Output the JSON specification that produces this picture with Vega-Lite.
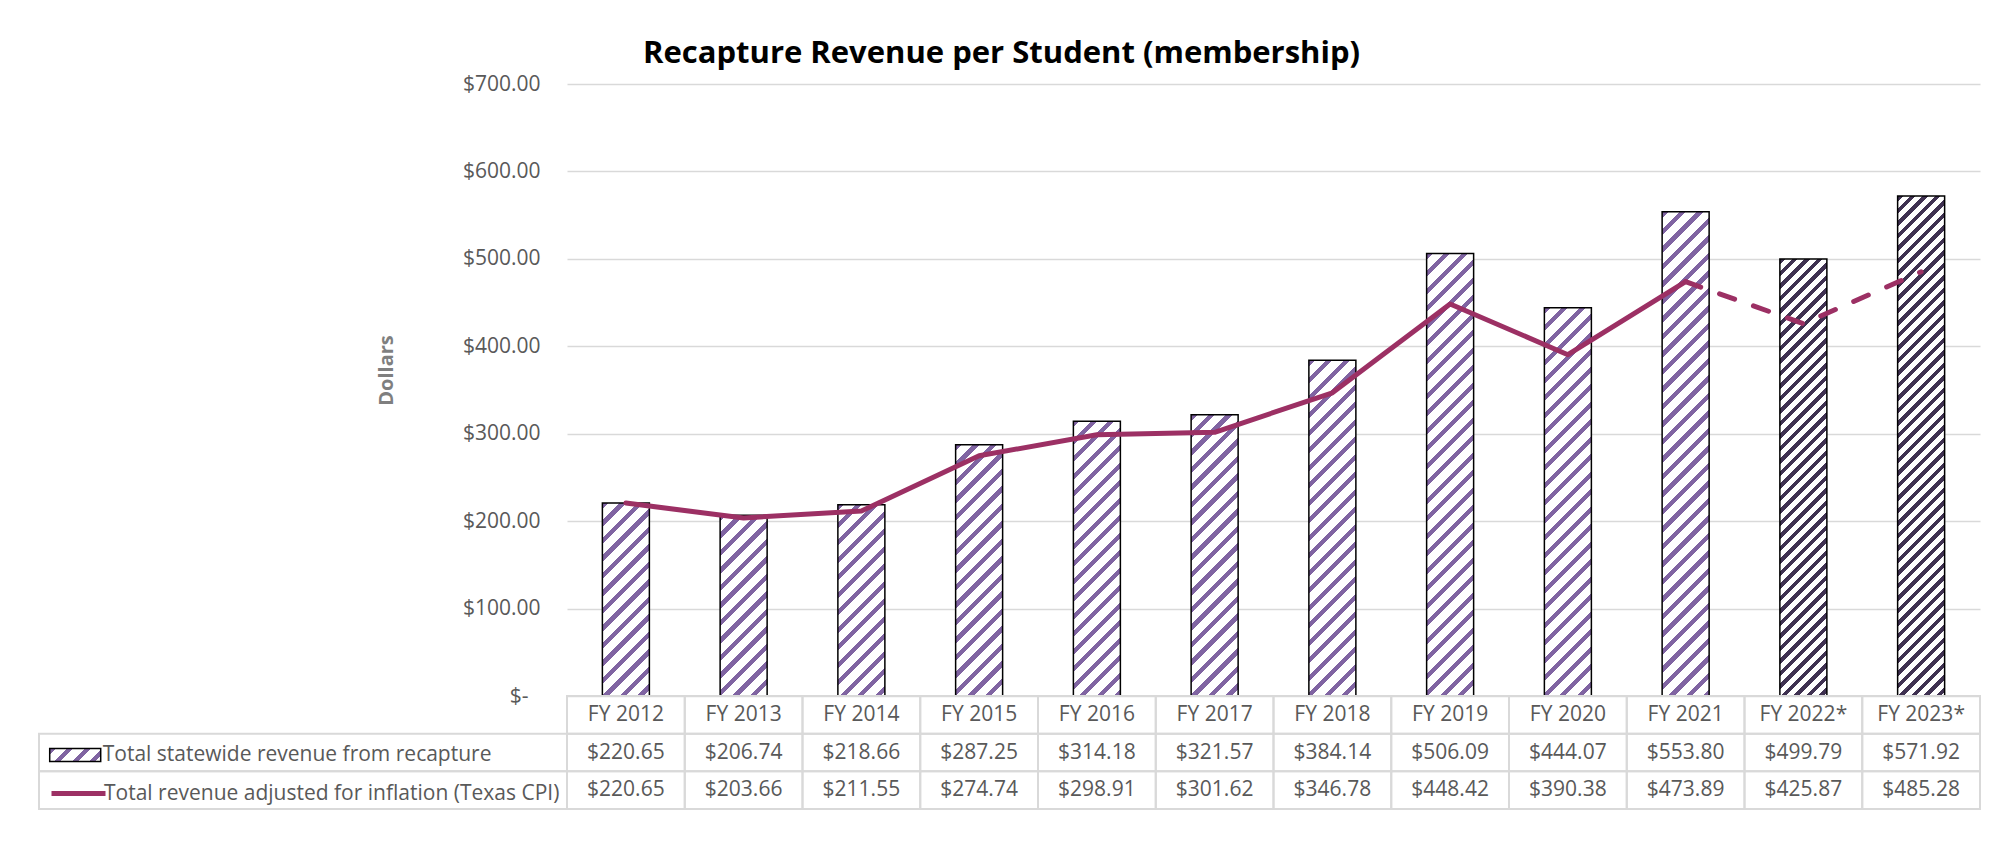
{
  "$schema": "https://vega.github.io/schema/vega-lite/v6.json",
  "background": "white",
  "padding": {"left": 38, "top": 38, "right": 0, "bottom": 0},
  "title": {"text": "Recapture Revenue per Student (membership)", "font": "Open Sans", "fontSize": 31, "fontWeight": "bold", "color": "#000000", "anchor": "middle", "offset": -21, "dx": -8, "baseline": "alphabetic"},
  "config": {"view": {"stroke": null}, "font": "Open Sans"},
  "params": [
    {"name": "purpleStops", "value": [
      {"offset":0,"color":"#8064a2"},{"offset":0.011,"color":"#8064a2"},{"offset":0.011,"color":"#fff"},{"offset":0.03125,"color":"#fff"},
      {"offset":0.03125,"color":"#8064a2"},{"offset":0.04225,"color":"#8064a2"},{"offset":0.04225,"color":"#fff"},{"offset":0.0625,"color":"#fff"},
      {"offset":0.0625,"color":"#8064a2"},{"offset":0.0735,"color":"#8064a2"},{"offset":0.0735,"color":"#fff"},{"offset":0.09375,"color":"#fff"},
      {"offset":0.09375,"color":"#8064a2"},{"offset":0.10475,"color":"#8064a2"},{"offset":0.10475,"color":"#fff"},{"offset":0.125,"color":"#fff"},
      {"offset":0.125,"color":"#8064a2"},{"offset":0.136,"color":"#8064a2"},{"offset":0.136,"color":"#fff"},{"offset":0.15625,"color":"#fff"},
      {"offset":0.15625,"color":"#8064a2"},{"offset":0.16725,"color":"#8064a2"},{"offset":0.16725,"color":"#fff"},{"offset":0.1875,"color":"#fff"},
      {"offset":0.1875,"color":"#8064a2"},{"offset":0.1985,"color":"#8064a2"},{"offset":0.1985,"color":"#fff"},{"offset":0.21875,"color":"#fff"},
      {"offset":0.21875,"color":"#8064a2"},{"offset":0.22975,"color":"#8064a2"},{"offset":0.22975,"color":"#fff"},{"offset":0.25,"color":"#fff"},
      {"offset":0.25,"color":"#8064a2"},{"offset":0.261,"color":"#8064a2"},{"offset":0.261,"color":"#fff"},{"offset":0.28125,"color":"#fff"},
      {"offset":0.28125,"color":"#8064a2"},{"offset":0.29225,"color":"#8064a2"},{"offset":0.29225,"color":"#fff"},{"offset":0.3125,"color":"#fff"},
      {"offset":0.3125,"color":"#8064a2"},{"offset":0.3235,"color":"#8064a2"},{"offset":0.3235,"color":"#fff"},{"offset":0.34375,"color":"#fff"},
      {"offset":0.34375,"color":"#8064a2"},{"offset":0.35475,"color":"#8064a2"},{"offset":0.35475,"color":"#fff"},{"offset":0.375,"color":"#fff"},
      {"offset":0.375,"color":"#8064a2"},{"offset":0.386,"color":"#8064a2"},{"offset":0.386,"color":"#fff"},{"offset":0.40625,"color":"#fff"},
      {"offset":0.40625,"color":"#8064a2"},{"offset":0.41725,"color":"#8064a2"},{"offset":0.41725,"color":"#fff"},{"offset":0.4375,"color":"#fff"},
      {"offset":0.4375,"color":"#8064a2"},{"offset":0.4485,"color":"#8064a2"},{"offset":0.4485,"color":"#fff"},{"offset":0.46875,"color":"#fff"},
      {"offset":0.46875,"color":"#8064a2"},{"offset":0.47975,"color":"#8064a2"},{"offset":0.47975,"color":"#fff"},{"offset":0.5,"color":"#fff"},
      {"offset":0.5,"color":"#8064a2"},{"offset":0.511,"color":"#8064a2"},{"offset":0.511,"color":"#fff"},{"offset":0.53125,"color":"#fff"},
      {"offset":0.53125,"color":"#8064a2"},{"offset":0.54225,"color":"#8064a2"},{"offset":0.54225,"color":"#fff"},{"offset":0.5625,"color":"#fff"},
      {"offset":0.5625,"color":"#8064a2"},{"offset":0.5735,"color":"#8064a2"},{"offset":0.5735,"color":"#fff"},{"offset":0.59375,"color":"#fff"},
      {"offset":0.59375,"color":"#8064a2"},{"offset":0.60475,"color":"#8064a2"},{"offset":0.60475,"color":"#fff"},{"offset":0.625,"color":"#fff"},
      {"offset":0.625,"color":"#8064a2"},{"offset":0.636,"color":"#8064a2"},{"offset":0.636,"color":"#fff"},{"offset":0.65625,"color":"#fff"},
      {"offset":0.65625,"color":"#8064a2"},{"offset":0.66725,"color":"#8064a2"},{"offset":0.66725,"color":"#fff"},{"offset":0.6875,"color":"#fff"},
      {"offset":0.6875,"color":"#8064a2"},{"offset":0.6985,"color":"#8064a2"},{"offset":0.6985,"color":"#fff"},{"offset":0.71875,"color":"#fff"},
      {"offset":0.71875,"color":"#8064a2"},{"offset":0.72975,"color":"#8064a2"},{"offset":0.72975,"color":"#fff"},{"offset":0.75,"color":"#fff"},
      {"offset":0.75,"color":"#8064a2"},{"offset":0.761,"color":"#8064a2"},{"offset":0.761,"color":"#fff"},{"offset":0.78125,"color":"#fff"},
      {"offset":0.78125,"color":"#8064a2"},{"offset":0.79225,"color":"#8064a2"},{"offset":0.79225,"color":"#fff"},{"offset":0.8125,"color":"#fff"},
      {"offset":0.8125,"color":"#8064a2"},{"offset":0.8235,"color":"#8064a2"},{"offset":0.8235,"color":"#fff"},{"offset":0.84375,"color":"#fff"},
      {"offset":0.84375,"color":"#8064a2"},{"offset":0.85475,"color":"#8064a2"},{"offset":0.85475,"color":"#fff"},{"offset":0.875,"color":"#fff"},
      {"offset":0.875,"color":"#8064a2"},{"offset":0.886,"color":"#8064a2"},{"offset":0.886,"color":"#fff"},{"offset":0.90625,"color":"#fff"},
      {"offset":0.90625,"color":"#8064a2"},{"offset":0.91725,"color":"#8064a2"},{"offset":0.91725,"color":"#fff"},{"offset":0.9375,"color":"#fff"},
      {"offset":0.9375,"color":"#8064a2"},{"offset":0.9485,"color":"#8064a2"},{"offset":0.9485,"color":"#fff"},{"offset":0.96875,"color":"#fff"},
      {"offset":0.96875,"color":"#8064a2"},{"offset":0.97975,"color":"#8064a2"},{"offset":0.97975,"color":"#fff"},{"offset":1,"color":"#fff"}
    ]},
    {"name": "darkStops", "value": [
      {"offset":0,"color":"#3f3151"},{"offset":0.01,"color":"#3f3151"},{"offset":0.01,"color":"#fff"},{"offset":0.02273,"color":"#fff"},
      {"offset":0.02273,"color":"#3f3151"},{"offset":0.03273,"color":"#3f3151"},{"offset":0.03273,"color":"#fff"},{"offset":0.04545,"color":"#fff"},
      {"offset":0.04545,"color":"#3f3151"},{"offset":0.05545,"color":"#3f3151"},{"offset":0.05545,"color":"#fff"},{"offset":0.06818,"color":"#fff"},
      {"offset":0.06818,"color":"#3f3151"},{"offset":0.07818,"color":"#3f3151"},{"offset":0.07818,"color":"#fff"},{"offset":0.09091,"color":"#fff"},
      {"offset":0.09091,"color":"#3f3151"},{"offset":0.10091,"color":"#3f3151"},{"offset":0.10091,"color":"#fff"},{"offset":0.11364,"color":"#fff"},
      {"offset":0.11364,"color":"#3f3151"},{"offset":0.12364,"color":"#3f3151"},{"offset":0.12364,"color":"#fff"},{"offset":0.13636,"color":"#fff"},
      {"offset":0.13636,"color":"#3f3151"},{"offset":0.14636,"color":"#3f3151"},{"offset":0.14636,"color":"#fff"},{"offset":0.15909,"color":"#fff"},
      {"offset":0.15909,"color":"#3f3151"},{"offset":0.16909,"color":"#3f3151"},{"offset":0.16909,"color":"#fff"},{"offset":0.18182,"color":"#fff"},
      {"offset":0.18182,"color":"#3f3151"},{"offset":0.19182,"color":"#3f3151"},{"offset":0.19182,"color":"#fff"},{"offset":0.20455,"color":"#fff"},
      {"offset":0.20455,"color":"#3f3151"},{"offset":0.21455,"color":"#3f3151"},{"offset":0.21455,"color":"#fff"},{"offset":0.22727,"color":"#fff"},
      {"offset":0.22727,"color":"#3f3151"},{"offset":0.23727,"color":"#3f3151"},{"offset":0.23727,"color":"#fff"},{"offset":0.25,"color":"#fff"},
      {"offset":0.25,"color":"#3f3151"},{"offset":0.26,"color":"#3f3151"},{"offset":0.26,"color":"#fff"},{"offset":0.27273,"color":"#fff"},
      {"offset":0.27273,"color":"#3f3151"},{"offset":0.28273,"color":"#3f3151"},{"offset":0.28273,"color":"#fff"},{"offset":0.29545,"color":"#fff"},
      {"offset":0.29545,"color":"#3f3151"},{"offset":0.30545,"color":"#3f3151"},{"offset":0.30545,"color":"#fff"},{"offset":0.31818,"color":"#fff"},
      {"offset":0.31818,"color":"#3f3151"},{"offset":0.32818,"color":"#3f3151"},{"offset":0.32818,"color":"#fff"},{"offset":0.34091,"color":"#fff"},
      {"offset":0.34091,"color":"#3f3151"},{"offset":0.35091,"color":"#3f3151"},{"offset":0.35091,"color":"#fff"},{"offset":0.36364,"color":"#fff"},
      {"offset":0.36364,"color":"#3f3151"},{"offset":0.37364,"color":"#3f3151"},{"offset":0.37364,"color":"#fff"},{"offset":0.38636,"color":"#fff"},
      {"offset":0.38636,"color":"#3f3151"},{"offset":0.39636,"color":"#3f3151"},{"offset":0.39636,"color":"#fff"},{"offset":0.40909,"color":"#fff"},
      {"offset":0.40909,"color":"#3f3151"},{"offset":0.41909,"color":"#3f3151"},{"offset":0.41909,"color":"#fff"},{"offset":0.43182,"color":"#fff"},
      {"offset":0.43182,"color":"#3f3151"},{"offset":0.44182,"color":"#3f3151"},{"offset":0.44182,"color":"#fff"},{"offset":0.45455,"color":"#fff"},
      {"offset":0.45455,"color":"#3f3151"},{"offset":0.46455,"color":"#3f3151"},{"offset":0.46455,"color":"#fff"},{"offset":0.47727,"color":"#fff"},
      {"offset":0.47727,"color":"#3f3151"},{"offset":0.48727,"color":"#3f3151"},{"offset":0.48727,"color":"#fff"},{"offset":0.5,"color":"#fff"},
      {"offset":0.5,"color":"#3f3151"},{"offset":0.51,"color":"#3f3151"},{"offset":0.51,"color":"#fff"},{"offset":0.52273,"color":"#fff"},
      {"offset":0.52273,"color":"#3f3151"},{"offset":0.53273,"color":"#3f3151"},{"offset":0.53273,"color":"#fff"},{"offset":0.54545,"color":"#fff"},
      {"offset":0.54545,"color":"#3f3151"},{"offset":0.55545,"color":"#3f3151"},{"offset":0.55545,"color":"#fff"},{"offset":0.56818,"color":"#fff"},
      {"offset":0.56818,"color":"#3f3151"},{"offset":0.57818,"color":"#3f3151"},{"offset":0.57818,"color":"#fff"},{"offset":0.59091,"color":"#fff"},
      {"offset":0.59091,"color":"#3f3151"},{"offset":0.60091,"color":"#3f3151"},{"offset":0.60091,"color":"#fff"},{"offset":0.61364,"color":"#fff"},
      {"offset":0.61364,"color":"#3f3151"},{"offset":0.62364,"color":"#3f3151"},{"offset":0.62364,"color":"#fff"},{"offset":0.63636,"color":"#fff"},
      {"offset":0.63636,"color":"#3f3151"},{"offset":0.64636,"color":"#3f3151"},{"offset":0.64636,"color":"#fff"},{"offset":0.65909,"color":"#fff"},
      {"offset":0.65909,"color":"#3f3151"},{"offset":0.66909,"color":"#3f3151"},{"offset":0.66909,"color":"#fff"},{"offset":0.68182,"color":"#fff"},
      {"offset":0.68182,"color":"#3f3151"},{"offset":0.69182,"color":"#3f3151"},{"offset":0.69182,"color":"#fff"},{"offset":0.70455,"color":"#fff"},
      {"offset":0.70455,"color":"#3f3151"},{"offset":0.71455,"color":"#3f3151"},{"offset":0.71455,"color":"#fff"},{"offset":0.72727,"color":"#fff"},
      {"offset":0.72727,"color":"#3f3151"},{"offset":0.73727,"color":"#3f3151"},{"offset":0.73727,"color":"#fff"},{"offset":0.75,"color":"#fff"},
      {"offset":0.75,"color":"#3f3151"},{"offset":0.76,"color":"#3f3151"},{"offset":0.76,"color":"#fff"},{"offset":0.77273,"color":"#fff"},
      {"offset":0.77273,"color":"#3f3151"},{"offset":0.78273,"color":"#3f3151"},{"offset":0.78273,"color":"#fff"},{"offset":0.79545,"color":"#fff"},
      {"offset":0.79545,"color":"#3f3151"},{"offset":0.80545,"color":"#3f3151"},{"offset":0.80545,"color":"#fff"},{"offset":0.81818,"color":"#fff"},
      {"offset":0.81818,"color":"#3f3151"},{"offset":0.82818,"color":"#3f3151"},{"offset":0.82818,"color":"#fff"},{"offset":0.84091,"color":"#fff"},
      {"offset":0.84091,"color":"#3f3151"},{"offset":0.85091,"color":"#3f3151"},{"offset":0.85091,"color":"#fff"},{"offset":0.86364,"color":"#fff"},
      {"offset":0.86364,"color":"#3f3151"},{"offset":0.87364,"color":"#3f3151"},{"offset":0.87364,"color":"#fff"},{"offset":0.88636,"color":"#fff"},
      {"offset":0.88636,"color":"#3f3151"},{"offset":0.89636,"color":"#3f3151"},{"offset":0.89636,"color":"#fff"},{"offset":0.90909,"color":"#fff"},
      {"offset":0.90909,"color":"#3f3151"},{"offset":0.91909,"color":"#3f3151"},{"offset":0.91909,"color":"#fff"},{"offset":0.93182,"color":"#fff"},
      {"offset":0.93182,"color":"#3f3151"},{"offset":0.94182,"color":"#3f3151"},{"offset":0.94182,"color":"#fff"},{"offset":0.95455,"color":"#fff"},
      {"offset":0.95455,"color":"#3f3151"},{"offset":0.96455,"color":"#3f3151"},{"offset":0.96455,"color":"#fff"},{"offset":0.97727,"color":"#fff"},
      {"offset":0.97727,"color":"#3f3151"},{"offset":0.98727,"color":"#3f3151"},{"offset":0.98727,"color":"#fff"},{"offset":1,"color":"#fff"}
    ]}
  ],
  "datasets": {
    "fy": [
      {"year": "FY 2012", "revenue": 220.65, "adjusted": 220.65},
      {"year": "FY 2013", "revenue": 206.74, "adjusted": 203.66},
      {"year": "FY 2014", "revenue": 218.66, "adjusted": 211.55},
      {"year": "FY 2015", "revenue": 287.25, "adjusted": 274.74},
      {"year": "FY 2016", "revenue": 314.18, "adjusted": 298.91},
      {"year": "FY 2017", "revenue": 321.57, "adjusted": 301.62},
      {"year": "FY 2018", "revenue": 384.14, "adjusted": 346.78},
      {"year": "FY 2019", "revenue": 506.09, "adjusted": 448.42},
      {"year": "FY 2020", "revenue": 444.07, "adjusted": 390.38},
      {"year": "FY 2021", "revenue": 553.80, "adjusted": 473.89},
      {"year": "FY 2022*", "revenue": 499.79, "adjusted": 425.87},
      {"year": "FY 2023*", "revenue": 571.92, "adjusted": 485.28}
    ],
    "series": [
      {"key": "revenue"},
      {"key": "adjusted"}
    ]
  },
  "columns": 2,
  "spacing": 0,
  "bounds": "flush",
  "concat": [
    {
      "width": 528,
      "height": 612,
      "data": {"values": []},
      "mark": {"type": "rect"},
      "encoding": {}
    },
    {
      "width": 1413,
      "height": 612,
      "data": {"name": "fy"},
      "encoding": {
        "x": {"field": "year", "type": "nominal", "sort": null, "scale": {"paddingInner": 0, "paddingOuter": 0}, "axis": null}
      },
      "layer": [
        {
          "mark": {"type": "bar", "width": 47, "stroke": "#000000", "strokeWidth": 1.5},
          "encoding": {
            "y": {
              "field": "revenue", "type": "quantitative",
              "scale": {"domain": [0, 700], "nice": false, "zero": true},
              "axis": {
                "values": [0, 100, 200, 300, 400, 500, 600, 700],
                "labelExpr": "datum.value == 0 ? '$-' : '$' + format(datum.value, ',.2f')",
                "labelFont": "Open Sans", "labelFontSize": 21, "labelColor": "#595959",
                "labelPadding": {"condition": {"test": "datum.value == 0", "value": 39}, "value": 27},
                "ticks": false, "domain": false,
                "grid": true, "gridColor": "#D9D9D9", "gridWidth": 1.5,
                "title": "Dollars", "titleFont": "Open Sans", "titleFontSize": 20, "titleFontWeight": "bold", "titleColor": "#7F7F7F",
                "titleAngle": 270, "titleAlign": "center", "titleBaseline": "middle", "titleX": -181, "titleY": 286
              }
            },
            "fill": {
              "datum": "Total statewide revenue from recapture",
              "type": "nominal",
              "scale": {"range": [{"expr": "{gradient: 'linear', x1: 0, y1: 0, x2: 560*51/2770, y2: 560*13/2770, stops: purpleStops}"}]},
              "legend": {
                "orient": "none", "legendX": 9.7, "legendY": 644.5, "title": null, "padding": 0,
                "symbolType": "M-1,-0.255H1V0.255H-1Z", "symbolSize": 2601,
                "symbolStrokeColor": "#000000", "symbolStrokeWidth": 1.5,
                "labelFont": "Open Sans", "labelFontSize": 21, "labelColor": "#595959", "labelOffset": 1, "labelLimit": 0
              },
              "condition": {
                "test": "true",
                "value": {"expr": "(datum.year == 'FY 2022*' || datum.year == 'FY 2023*') ? {gradient: 'linear', x1: 0, y1: 0, x2: 550*47/(2209+pow(datum.revenue*612/700,2)), y2: 550*(datum.revenue*612/700)/(2209+pow(datum.revenue*612/700,2)), stops: darkStops} : {gradient: 'linear', x1: 0, y1: 0, x2: 560*47/(2209+pow(datum.revenue*612/700,2)), y2: 560*(datum.revenue*612/700)/(2209+pow(datum.revenue*612/700,2)), stops: purpleStops}"}
              }
            }
          }
        },
        {
          "transform": [{"filter": "datum.year != 'FY 2022*' && datum.year != 'FY 2023*'"}],
          "mark": {"type": "line", "strokeWidth": 5, "strokeCap": "round", "strokeJoin": "round"},
          "encoding": {
            "y": {"field": "adjusted", "type": "quantitative"},
            "stroke": {
              "datum": "Total revenue adjusted for inflation (Texas CPI)",
              "type": "nominal",
              "scale": {"range": ["#9C3064"]},
              "legend": {
                "orient": "none", "legendX": 10, "legendY": 680, "title": null, "padding": 0,
                "symbolType": "stroke", "symbolSize": 2916, "symbolStrokeWidth": 5,
                "labelFont": "Open Sans", "labelFontSize": 21, "labelColor": "#595959", "labelOffset": -4, "labelLimit": 0
              }
            }
          }
        },
        {
          "transform": [{"filter": "datum.year == 'FY 2021' || datum.year == 'FY 2022*' || datum.year == 'FY 2023*'"}],
          "mark": {"type": "line", "strokeWidth": 5, "strokeCap": "round", "strokeJoin": "round", "strokeDash": [16, 20]},
          "encoding": {
            "y": {"field": "adjusted", "type": "quantitative"},
            "stroke": {
              "datum": "Total revenue adjusted for inflation (Texas CPI)",
              "type": "nominal"
            }
          }
        }
      ]
    },
    {
      "width": 528,
      "height": 113,
      "data": {"name": "series"},
      "mark": {"type": "rect", "fill": "transparent", "stroke": "#D9D9D9", "strokeWidth": 2},
      "encoding": {
        "y": {"field": "key", "type": "nominal", "scale": {"domain": ["year", "revenue", "adjusted"], "paddingInner": 0, "paddingOuter": 0}, "axis": null}
      }
    },
    {
      "width": 1413,
      "height": 113,
      "data": {"name": "fy"},
      "encoding": {
        "x": {"field": "year", "type": "nominal", "sort": null, "scale": {"paddingInner": 0, "paddingOuter": 0}, "axis": null}
      },
      "layer": [
        {
          "transform": [{"fold": ["revenue", "adjusted"], "as": ["key", "value"]}],
          "mark": {"type": "rect", "fill": "transparent", "stroke": "#D9D9D9", "strokeWidth": 2},
          "encoding": {
            "y": {"field": "key", "type": "nominal", "scale": {"domain": ["year", "revenue", "adjusted"], "paddingInner": 0, "paddingOuter": 0}, "axis": null}
          }
        },
        {
          "transform": [{"fold": ["revenue", "adjusted"], "as": ["key", "value"]}],
          "mark": {"type": "text", "font": "Open Sans", "fontSize": 21, "color": "#595959"},
          "encoding": {
            "y": {"field": "key", "type": "nominal"},
            "text": {"field": "value", "type": "quantitative", "format": "$,.2f"}
          }
        },
        {
          "mark": {"type": "rect", "fill": "transparent", "stroke": "#D9D9D9", "strokeWidth": 2},
          "encoding": {
            "y": {"datum": "year", "type": "nominal"}
          }
        },
        {
          "mark": {"type": "text", "font": "Open Sans", "fontSize": 21, "color": "#595959"},
          "encoding": {
            "y": {"datum": "year", "type": "nominal"},
            "text": {"field": "year", "type": "nominal"}
          }
        }
      ]
    }
  ]
}
